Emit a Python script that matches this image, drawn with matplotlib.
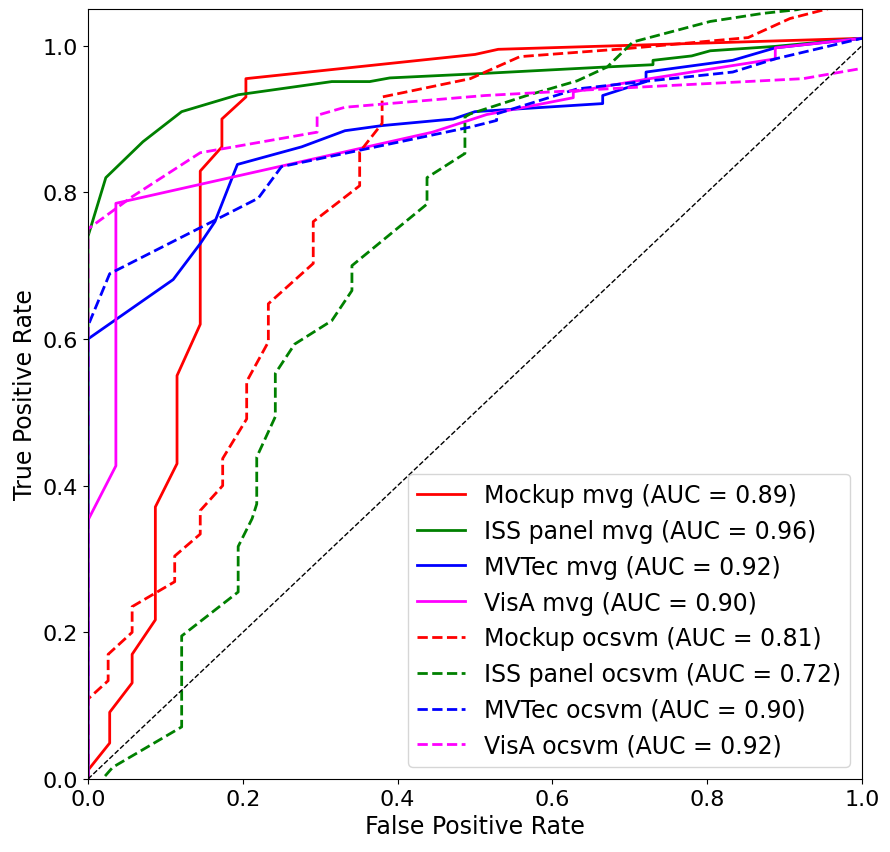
import matplotlib
matplotlib.use("Agg")
import matplotlib.pyplot as plt

# ROC points (fpr, tpr)
mockup_mvg_fpr = [0, 0, 0.028, 0.028, 0.057, 0.057, 0.087, 0.087, 0.115, 0.115,
                  0.145, 0.145, 0.173, 0.173, 0.204, 0.204, 0.5, 0.53, 1.0]
mockup_mvg_tpr = [0, 0.012, 0.049, 0.091, 0.131, 0.17, 0.217, 0.371, 0.43, 0.55,
                  0.62, 0.829, 0.862, 0.9, 0.93, 0.955, 0.988, 0.995, 1.01]

iss_mvg_fpr = [0, 0, 0.023, 0.071, 0.121, 0.194, 0.315, 0.364, 0.39, 0.509,
               0.671, 0.73, 0.73, 0.78, 0.804, 0.888, 1.0]
iss_mvg_tpr = [0, 0.74, 0.82, 0.869, 0.91, 0.933, 0.951, 0.951, 0.956, 0.962,
               0.971, 0.974, 0.98, 0.986, 0.993, 0.999, 1.01]

mvtec_mvg_fpr = [0, 0, 0.11, 0.145, 0.164, 0.193, 0.276, 0.332, 0.38, 0.472,
                 0.5, 0.665, 0.665, 0.721, 0.721, 0.833, 0.888, 1.0]
mvtec_mvg_tpr = [0, 0.6, 0.681, 0.73, 0.76, 0.838, 0.862, 0.884, 0.891, 0.9,
                 0.91, 0.921, 0.932, 0.951, 0.964, 0.98, 0.997, 1.01]

visa_mvg_fpr = [0, 0, 0.036, 0.036, 0.445, 0.515, 0.627, 0.627, 0.726, 0.888,
                0.888, 1.0]
visa_mvg_tpr = [0, 0.353, 0.427, 0.785, 0.882, 0.906, 0.929, 0.937, 0.955, 0.982,
                0.997, 1.01]

mockup_ocsvm_fpr = [0, 0, 0.026, 0.026, 0.057, 0.057, 0.112, 0.112, 0.145, 0.145,
                    0.174, 0.174, 0.205, 0.205, 0.233, 0.233, 0.291, 0.291, 0.351,
                    0.351, 0.38, 0.38, 0.494, 0.558, 0.696, 0.853, 0.907, 0.955, 1.0]
mockup_ocsvm_tpr = [0, 0.109, 0.134, 0.17, 0.2, 0.235, 0.269, 0.304, 0.334, 0.366,
                    0.4, 0.437, 0.491, 0.542, 0.596, 0.648, 0.703, 0.76, 0.809,
                    0.855, 0.894, 0.93, 0.955, 0.985, 0.996, 1.011, 1.037, 1.05, 1.07]

iss_ocsvm_fpr = [0.022, 0.032, 0.121, 0.121, 0.194, 0.194, 0.212, 0.218, 0.218,
                 0.242, 0.242, 0.267, 0.315, 0.341, 0.341, 0.438, 0.438, 0.487,
                 0.487, 0.494, 0.567, 0.632, 0.671, 0.704, 0.804, 0.872, 0.916, 1.0]
iss_ocsvm_tpr = [0.004, 0.016, 0.071, 0.195, 0.255, 0.317, 0.355, 0.375, 0.439,
                 0.494, 0.553, 0.593, 0.625, 0.666, 0.7, 0.784, 0.82, 0.853,
                 0.903, 0.907, 0.932, 0.952, 0.971, 1.005, 1.033, 1.044, 1.049, 1.07]

mvtec_ocsvm_fpr = [0, 0, 0.028, 0.22, 0.25, 0.494, 0.528, 0.528, 0.632, 0.717,
                   0.833, 0.888, 1.0]
mvtec_ocsvm_tpr = [0, 0.618, 0.689, 0.792, 0.835, 0.889, 0.898, 0.907, 0.941, 0.951,
                   0.964, 0.982, 1.01]

visa_ocsvm_fpr = [0, 0, 0.057, 0.145, 0.296, 0.296, 0.332, 0.513, 0.722, 0.924, 1.0]
visa_ocsvm_tpr = [0, 0.75, 0.794, 0.854, 0.882, 0.905, 0.916, 0.932, 0.944, 0.955, 0.969]

datasets = ["Mockup", "ISS panel", "MVTec", "VisA"]
colors = ["red", "green", "blue", "magenta"]
mvg_auc = [0.89, 0.96, 0.92, 0.90]
ocsvm_auc = [0.81, 0.72, 0.90, 0.92]

mvg_curves = [
    (mockup_mvg_fpr, mockup_mvg_tpr),
    (iss_mvg_fpr, iss_mvg_tpr),
    (mvtec_mvg_fpr, mvtec_mvg_tpr),
    (visa_mvg_fpr, visa_mvg_tpr),
]
ocsvm_curves = [
    (mockup_ocsvm_fpr, mockup_ocsvm_tpr),
    (iss_ocsvm_fpr, iss_ocsvm_tpr),
    (mvtec_ocsvm_fpr, mvtec_ocsvm_tpr),
    (visa_ocsvm_fpr, visa_ocsvm_tpr),
]

fig, ax = plt.subplots(figsize=(8.9, 8.53), dpi=100)
fig.subplots_adjust(left=0.0989, right=0.9685, top=0.9883, bottom=0.0856)

for name, color, auc, (fpr, tpr) in zip(datasets, colors, mvg_auc, mvg_curves):
    ax.plot(fpr, tpr, color=color, lw=2, label=f"{name} mvg (AUC = {auc:.2f})")
for name, color, auc, (fpr, tpr) in zip(datasets, colors, ocsvm_auc, ocsvm_curves):
    ax.plot(fpr, tpr, color=color, lw=2, linestyle="--",
            label=f"{name} ocsvm (AUC = {auc:.2f})")

ax.plot([0, 1], [0, 1], "k--", lw=1)
ax.set_xlim(0.0, 1.0)
ax.set_ylim(0.0, 1.05)
ax.set_xlabel("False Positive Rate", fontsize=17)
ax.set_ylabel("True Positive Rate", fontsize=17)
ax.tick_params(labelsize=16)
ax.legend(loc="lower right", fontsize=17)

fig.savefig("out.png")
